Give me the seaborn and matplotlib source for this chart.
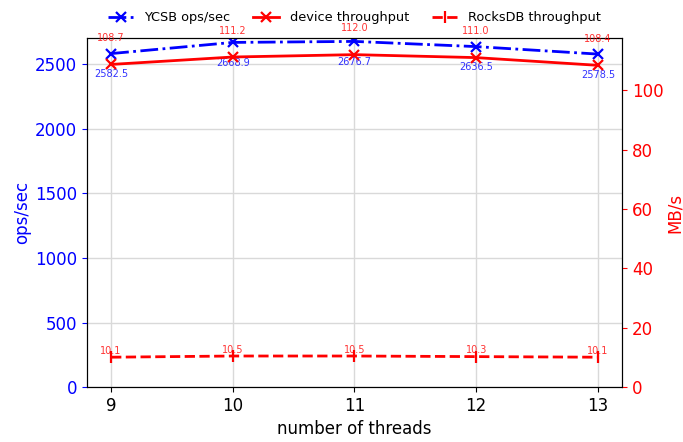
import pandas as pd
import matplotlib
matplotlib.use("Agg")
import matplotlib.pyplot as plt
import seaborn as sns

threads = [9, 10, 11, 12, 13]
ycsb_ops = [2582.5, 2668.9, 2676.7, 2636.5, 2578.5]
device_tp = [108.7, 111.2, 112.0, 111.0, 108.4]
rocksdb_tp = [10.1, 10.5, 10.5, 10.3, 10.1]

df = pd.DataFrame({
    "threads": threads,
    "ycsb": ycsb_ops,
    "device": device_tp,
    "rocksdb": rocksdb_tp,
})

plt.rcParams["font.family"] = "DejaVu Sans"
fig, ax = plt.subplots(figsize=(6.83, 4.42), dpi=100)
fig.subplots_adjust(left=0.127, right=0.911, bottom=0.124, top=0.914)
ax2 = ax.twinx()

sns.lineplot(data=df, x="threads", y="ycsb", ax=ax, color="blue", linestyle="-.",
             linewidth=2, marker="x", markersize=6.5, markeredgecolor="blue",
             markeredgewidth=1.6, label="YCSB ops/sec")
sns.lineplot(data=df, x="threads", y="device", ax=ax2, color="red", linestyle="-",
             linewidth=2, marker="x", markersize=6.5, markeredgecolor="red",
             markeredgewidth=1.6, label="device throughput")
sns.lineplot(data=df, x="threads", y="rocksdb", ax=ax2, color="red", linestyle="--",
             linewidth=2, marker="|", markersize=8, markeredgecolor="red",
             markeredgewidth=1.6, label="RocksDB throughput")

for x, v in zip(threads, ycsb_ops):
    ax.annotate(f"{v:.1f}", (x, v), xytext=(0, -15), textcoords="offset points",
                ha="center", va="center", fontsize=7, color="blue", alpha=0.8)
for x, v in zip(threads, device_tp):
    ax2.annotate(f"{v:.1f}", (x, v), xytext=(0, 19), textcoords="offset points",
                 ha="center", va="center", fontsize=7, color="red", alpha=0.8)
for x, v in zip(threads, rocksdb_tp):
    ax2.annotate(f"{v:.1f}", (x, v), xytext=(0, 1), textcoords="offset points",
                 ha="center", va="bottom", fontsize=7, color="red", alpha=0.8)

ax.set_ylim(0, 2703)
ax2.set_ylim(0, 117.6)
ax.set_xticks(threads)
ax.set_xlabel("number of threads", fontsize=12)
ax.set_ylabel("ops/sec", color="blue", fontsize=12, labelpad=3)
ax2.set_ylabel("MB/s", color="red", fontsize=12, labelpad=2)
ax.tick_params(axis="y", colors="blue", labelsize=12)
ax2.tick_params(axis="y", colors="red", labelsize=12)
ax.tick_params(axis="x", labelsize=12)
ax.grid(True, color="#d9d9d9", linewidth=1)

h1, l1 = ax.get_legend_handles_labels()
h2, l2 = ax2.get_legend_handles_labels()
ax.get_legend().remove()
ax2.get_legend().remove()
ax2.legend(h1 + h2, l1 + l2, loc="lower center", bbox_to_anchor=(0.5, 1.025),
           ncol=3, frameon=False, fontsize=9.3, borderaxespad=0.0,
           columnspacing=1.8)

plt.savefig("out.png", dpi=100)
